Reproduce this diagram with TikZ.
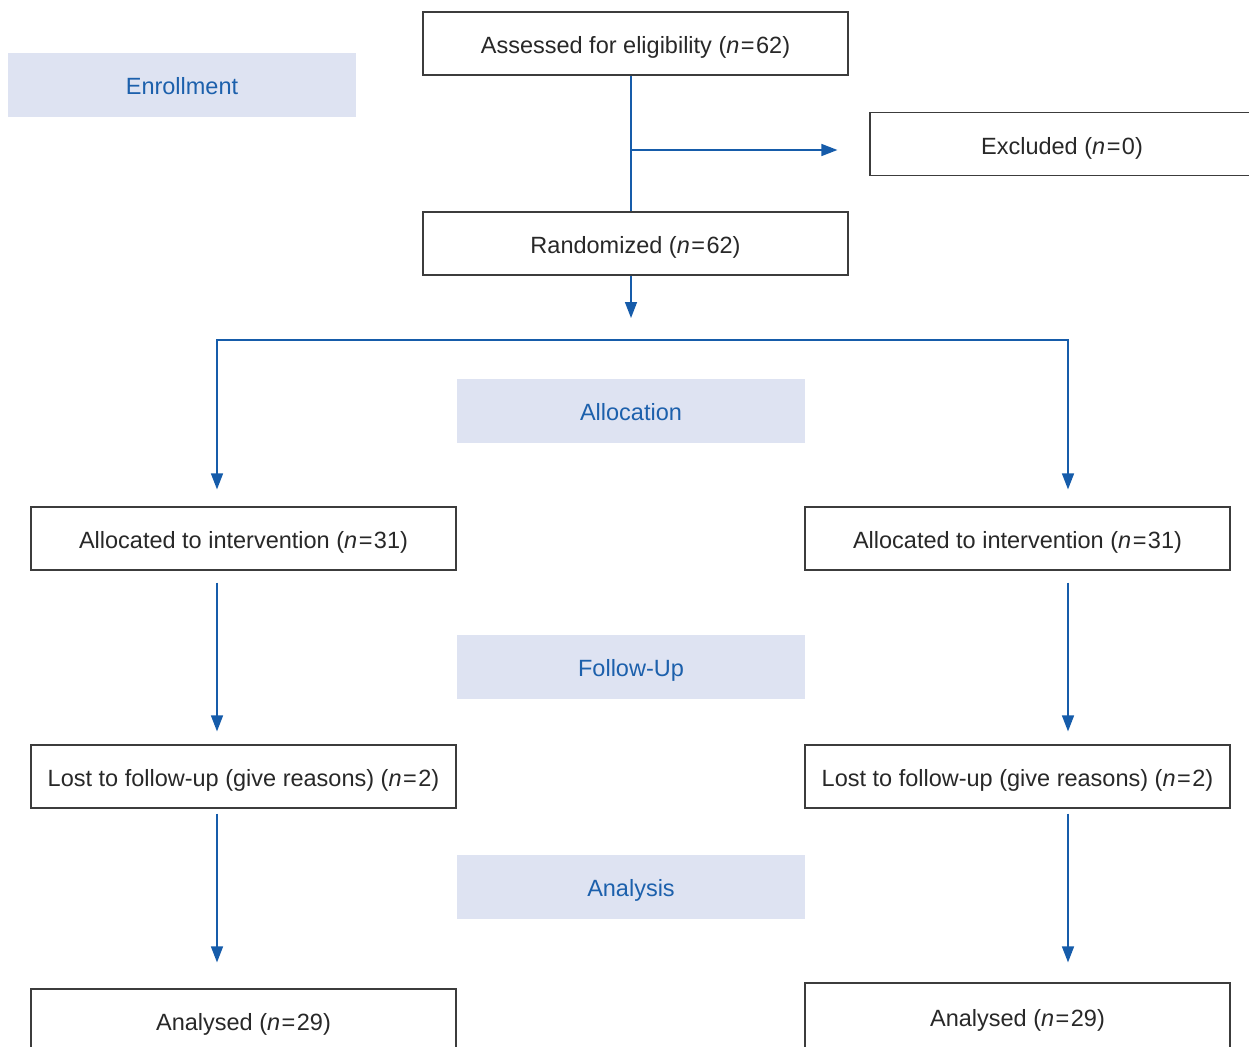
\documentclass[tikz,border=0pt]{standalone}
\usepackage{fontspec}
\setmainfont{Liberation Sans}
\usepackage{tikz}
\usetikzlibrary{arrows.meta,positioning,calc}
\definecolor{flowblue}{RGB}{22,92,170}
\definecolor{stageblue}{RGB}{28,96,172}
\definecolor{stagefill}{RGB}{222,227,242}
\definecolor{boxgray}{RGB}{60,60,60}
\definecolor{inkgray}{RGB}{40,40,40}
\newcommand{\ncount}[1]{(\textit{n}\kern1.5pt=\kern1.5pt#1)}
\tikzset{
  stepbox/.style={rectangle, draw=boxgray, line width=1.2pt, fill=white, minimum width=425pt, minimum height=63pt, inner sep=0pt, text height=20pt, text depth=0pt, text=inkgray, font=\fontsize{23.5}{27}\selectfont},
  stage/.style={rectangle, fill=stagefill, minimum width=348pt, minimum height=64pt, inner sep=0pt, text height=19pt, text depth=0pt, text=stageblue, font=\fontsize{23.5}{27}\selectfont},
  flowline/.style={flowblue, line width=1.5pt},
  flow/.style={flowline, -{Triangle[length=16pt,width=12pt]}}
}
\begin{document}
\begin{tikzpicture}[x=1pt,y=-1pt]
  \path[use as bounding box, clip] (0,0) rectangle (1249,1046);
  % enrollment
  \node[stage] (enrol) at (182,85) {Enrollment};
  \node[stepbox] (assess) at (635.5,43.5) {Assessed for eligibility \ncount{62}};
  \node[stepbox, minimum width=384pt] (excl) at (1062,144) {Excluded \ncount{0}};
  \node[stepbox] (rand) at (635.5,243.5) {Randomized \ncount{62}};
  \coordinate (colM) at (631,0);
  \coordinate (colL) at (217,0);
  \coordinate (colR) at (1068,0);
  \coordinate (exbr) at (631,150);
  \coordinate (split) at (631,340);
  \draw[flowline] (assess.south -| colM) -- (rand.north -| colM);
  \draw[flow, shorten >=32pt] (exbr) -- (excl.west |- exbr);
  \draw[flow, shorten >=22pt] (rand.south -| colM) -- (split);

  % allocation
  \node[stage] (alloc) at (631,411) {Allocation};
  \node[stepbox] (allocL) at (243.5,538.5) {Allocated to intervention \ncount{31}};
  \node[stepbox] (allocR) at (1017.5,538.5) {Allocated to intervention \ncount{31}};
  \draw[flow, shorten >=17pt] (split) -| (allocL.north -| colL);
  \draw[flow, shorten >=17pt] (split) -| (allocR.north -| colR);

  % follow-up
  \node[stage] (follow) at (631,667) {Follow-Up};
  \node[stepbox] (lostL) at (243.5,776.5) {Lost to follow-up (give reasons) \ncount{2}};
  \node[stepbox] (lostR) at (1017.5,776.5) {Lost to follow-up (give reasons) \ncount{2}};
  \draw[flow, shorten <=12pt, shorten >=13pt] (allocL.south -| colL) -- (lostL.north -| colL);
  \draw[flow, shorten <=12pt, shorten >=13pt] (allocR.south -| colR) -- (lostR.north -| colR);

  % analysis
  \node[stage] (analysis) at (631,887) {Analysis};
  \node[stepbox] (anaL) at (243.5,1020.5) {Analysed \ncount{29}};
  \node[stepbox, minimum height=66pt] (anaR) at (1017.5,1016) {Analysed \ncount{29}};
  \draw[flow, shorten <=5pt, shorten >=26pt] (lostL.south -| colL) -- (anaL.north -| colL);
  \draw[flow, shorten <=5pt, shorten >=20pt] (lostR.south -| colR) -- (anaR.north -| colR);
\end{tikzpicture}
\end{document}
